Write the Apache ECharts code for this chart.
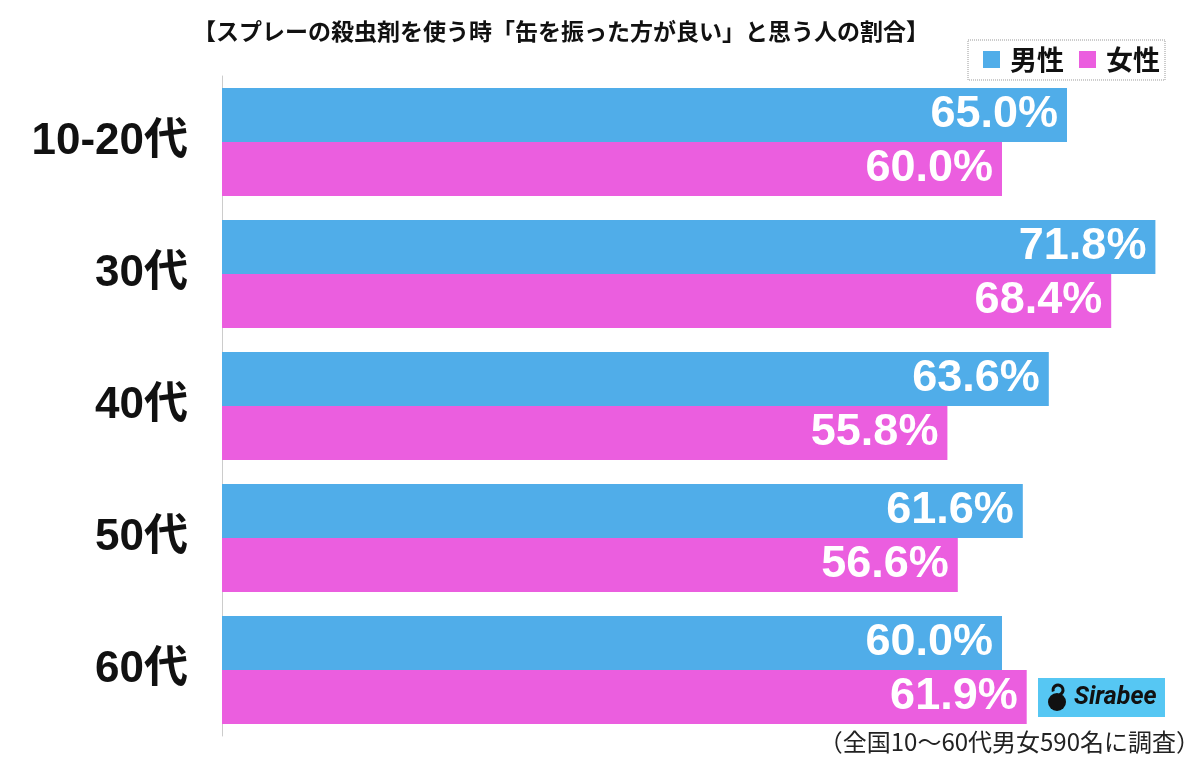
<!DOCTYPE html>
<html><head><meta charset="utf-8">
<script src="https://cdn.jsdelivr.net/npm/echarts@6/dist/echarts.min.js"></script>
<style>html,body{margin:0;padding:0;background:#fff}#c{width:1200px;height:760px}</style>
</head><body><div id="c"></div>
<script>
const titleText = '【スプレーの殺虫剤を使う時「缶を振った方が良い」と思う人の割合】';
const categories = ['10-20代', '30代', '40代', '50代', '60代'];
const male = [65.0, 71.8, 63.6, 61.6, 60.0];
const female = [60.0, 68.4, 55.8, 56.6, 61.9];
const seriesNames = ['男性', '女性'];
const footnote = '（全国10～60代男女590名に調査）';

const FONT = '"Noto Sans CJK JP", "Noto Sans", sans-serif';
const NUMFONT = '"Liberation Sans", "Noto Sans CJK JP", sans-serif';
const chart = echarts.init(document.getElementById('c'));
const labelCfg = {
  show: true, position: 'insideRight', distance: 9,
  color: '#fff', fontSize: 45, fontWeight: 'bold', fontFamily: NUMFONT,
  formatter: p => p.value.toFixed(1) + '%'
};
chart.setOption({
  animation: false,
  title: {
    text: titleText, left: 556, top: 15, textAlign: 'center',
    textStyle: { fontSize: 23, fontWeight: 'bold', color: '#111', fontFamily: FONT }
  },
  legend: {
    right: 35, top: 40, itemWidth: 17, itemHeight: 17, itemGap: 15,
    padding: [6, 5, 7, 15],
    borderColor: '#999', borderWidth: 1, borderType: 'dotted',
    icon: 'rect',
    textStyle: { fontSize: 27, fontWeight: 'bold', color: '#111', fontFamily: FONT, padding: [0, 0, 0, 5] },
    data: seriesNames
  },
  grid: { left: 222, top: 76, width: 975, height: 660, containLabel: false },
  xAxis: { type: 'value', min: 0, max: 75, show: false },
  yAxis: {
    type: 'category', data: categories, inverse: true,
    axisLine: { show: true, lineStyle: { color: '#ccc', width: 1 } },
    axisTick: { show: false },
    axisLabel: { margin: 34, fontSize: 44, fontWeight: 'bold', color: '#111', fontFamily: NUMFONT }
  },
  series: [
    { name: seriesNames[0], type: 'bar', data: male, barWidth: 54, barGap: '0%',
      itemStyle: { color: '#50ADE9' }, label: labelCfg },
    { name: seriesNames[1], type: 'bar', data: female, barWidth: 54, barGap: '0%',
      itemStyle: { color: '#EB5EDF' }, label: labelCfg }
  ],
  graphic: [
    { type: 'text', right: 0, top: 730,
      style: { text: footnote, fontSize: 24, fill: '#222', fontFamily: FONT } },
    { type: 'group', left: 1038, top: 678, children: [
      { type: 'rect', shape: { x: 0, y: 0, width: 127, height: 39 }, style: { fill: '#56C7F3' } },
      { type: 'circle', shape: { cx: 19, cy: 24, r: 9 }, style: { fill: '#111' } },
      { type: 'arc', shape: { cx: 20, cy: 12, r: 5, startAngle: Math.PI * 0.9, endAngle: Math.PI * 2.4 }, style: { stroke: '#111', lineWidth: 3, fill: null } },
      { type: 'text', style: { x: 36, y: 20, text: 'Sirabee', fontSize: 25, fontWeight: 'bold', fontStyle: 'italic', fill: '#111', fontFamily: 'Roboto, sans-serif', verticalAlign: 'middle' } }
    ]}
  ]
});
</script></body></html>
